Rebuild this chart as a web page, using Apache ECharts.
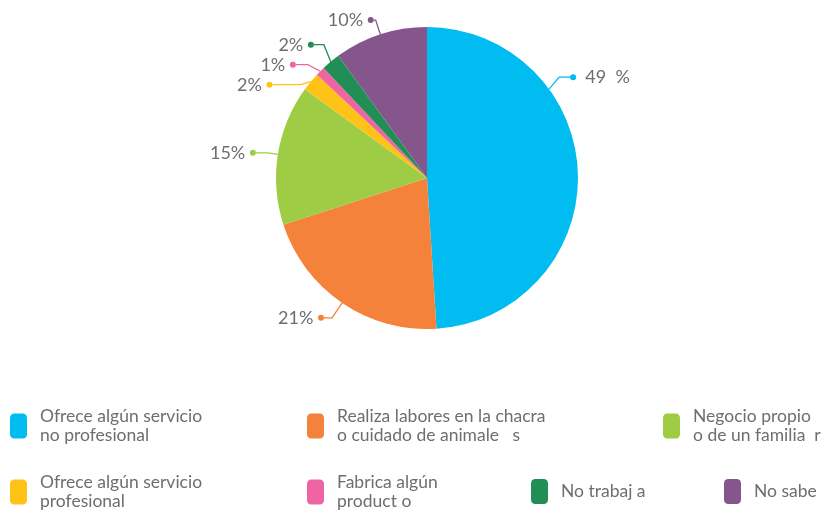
<!DOCTYPE html>
<html>
<head>
<meta charset="utf-8">
<script src="https://cdn.jsdelivr.net/npm/echarts@6/dist/echarts.min.js"></script>
<style>
  html, body { margin: 0; padding: 0; background: #ffffff; }
  #pie { width: 824px; height: 510px; }
</style>
</head>
<body>
<div id="pie"></div>
<script>
// categorias y valores (%)
var categories = [
  "Ofrece algún servicio\nno profesional",
  "Realiza labores en la chacra\no cuidado de animale   s",
  "Negocio propio\no de un familia  r",
  "Ofrece algún servicio\nprofesional",
  "Fabrica algún\nproduct o",
  "No trabaj a",
  "No sabe"
];
var values = [49, 21, 15, 2, 1, 2, 10];
var percentLabels = ["49  %", "21%", "15%", "2%", "1%", "2%", "10%"];
var colors = ["#00bcf1", "#f5823a", "#9fcc45", "#fec316", "#ef64a2", "#218e55", "#85568b"];

var textGray = "#6d6e71";
var fontName = "Lato";
var cx = 427, cy = 178, r = 151;

// largo de las lineas guia [length, length2]
var lineLens = [[10, 12], [18, 8], [10, 12], [2, 28], [12, 12], [22, 10], [15, 2]];

// puntos de color al final de cada linea
var rich = {
  v: { color: textGray, fontSize: 18, fontFamily: fontName }
};
colors.forEach(function (c, i) {
  rich["d" + i] = { width: 6, height: 6, borderRadius: 3, backgroundColor: c };
});

var total = values.reduce(function (a, b) { return a + b; }, 0);

var pieData = categories.map(function (name, i) {
  return {
    name: name,
    value: values[i],
    itemStyle: { color: colors[i] },
    labelLine: { length: lineLens[i][0], length2: lineLens[i][1] }
  };
});

// leyenda: cada item en su posicion
var legendPos = [
  { left: 10, top: 404 },
  { left: 307, top: 404 },
  { left: 663, top: 404 },
  { left: 10, top: 470 },
  { left: 307, top: 470 },
  { left: 531, top: 479 },
  { left: 724, top: 479 }
];
var legends = categories.map(function (name, i) {
  return {
    data: [name],
    left: legendPos[i].left,
    top: legendPos[i].top,
    padding: 0,
    orient: "vertical",
    icon: "roundRect",
    itemWidth: 17,
    itemHeight: 25,
    selectedMode: false,
    textStyle: {
      color: textGray,
      fontSize: 17.5,
      fontFamily: fontName,
      lineHeight: 19,
      padding: [6, 0, 0, 8]
    }
  };
});

var myChart = echarts.init(document.getElementById("pie"));
myChart.setOption({
  animation: false,
  color: colors,
  legend: legends,
  series: [
    {
      type: "pie",
      center: [cx, cy],
      radius: [0, r],
      startAngle: 90,
      clockwise: true,
      data: pieData,
      itemStyle: { borderWidth: 0 },
      emphasis: { disabled: true },
      label: {
        show: true,
        position: "outside",
        distanceToLabelLine: 0,
        formatter: function (p) {
          var before = 0;
          for (var k = 0; k < p.dataIndex; k++) before += values[k];
          var mid = (before + values[p.dataIndex] / 2) / total;
          if (mid < 0.5) {
            return "{d" + p.dataIndex + "| }{v|  " + percentLabels[p.dataIndex] + "}";
          }
          return "{v|" + percentLabels[p.dataIndex] + " }{d" + p.dataIndex + "| }";
        },
        rich: rich
      },
      labelLine: {
        show: true,
        lineStyle: { width: 1.3 }
      },
      // la etiqueta del 49% va arriba a la derecha
      labelLayout: function (params) {
        if (params.dataIndex === 0) {
          var a = (values[0] * 0.306 / total) * Math.PI * 2;
          var ex = cx + r * Math.sin(a);
          var ey = cy - r * Math.cos(a);
          var kx = ex + 10, ky = ey - 12;
          var endX = kx + 14;
          return {
            x: endX - 3,
            y: ky,
            labelLinePoints: [[ex, ey], [kx, ky], [endX, ky]]
          };
        }
      }
    }
  ]
});
</script>
</body>
</html>
